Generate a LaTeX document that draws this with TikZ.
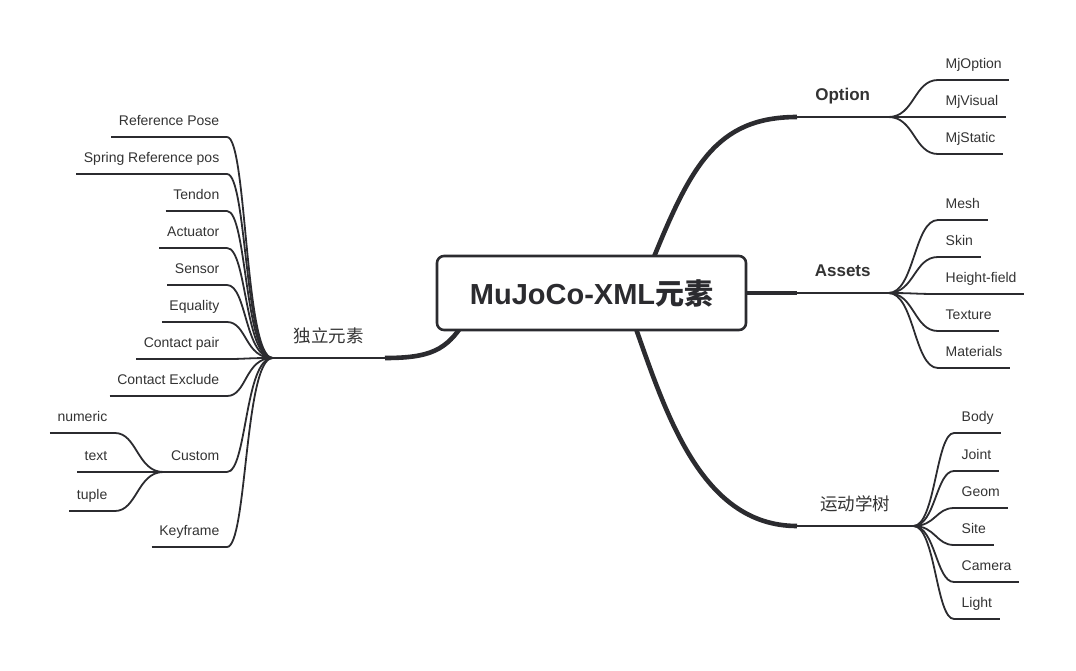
\documentclass[tikz,border=0pt]{standalone}
\usepackage{fontspec}
\setmainfont{Liberation Sans}
\newfontfamily\cjk{Noto Sans CJK SC}
\usetikzlibrary{backgrounds,calc}
\definecolor{ln}{HTML}{2B2B2F}
\definecolor{tx}{HTML}{333333}
\begin{document}
\begin{tikzpicture}[x=1pt,y=-1pt,
  leaf/.style={font=\fontsize{14}{16}\selectfont, text=tx, inner xsep=7.5pt, inner ysep=0pt, text height=11pt, text depth=11pt},
  rleaf/.style={leaf, anchor=south west},
  lleaf/.style={leaf, anchor=south east},
  hub/.style={text=tx, inner sep=0pt, text height=12pt},
  hubL/.style={hub, font=\bfseries\fontsize{17}{20}\selectfont, text depth=16pt},
  hubC/.style={hub, font=\cjk\fontsize{17.5}{20}\selectfont, text depth=15pt},
  uline/.style={draw=ln, line width=2.7pt},
  twig/.style={draw=ln, line width=1.8pt},
  trunk/.style={draw=ln, line width=4.6pt},
  rootbox/.style={draw=ln, line width=2.6pt, fill=white, rounded corners=7pt, minimum width=309pt, minimum height=74pt, inner sep=0pt, text=ln, font=\bfseries\fontsize{29}{32}\selectfont}
]
\useasboundingbox (0,0) rectangle (1076,670);

% root
\node[rootbox] (root) at (591.5,293) {MuJoCo-XML{\cjk 元素}};

% first-level labels
\node[hubL, anchor=south west, minimum width=91pt] (option) at (797,117) {Option};
\node[hubL, anchor=south west, minimum width=91pt] (assets) at (797,293) {Assets};
\node[hubC, anchor=south west, minimum width=116pt] (kin) at (797,526) {运动学树};
\node[hubC, anchor=south east, minimum width=112pt] (indep) at (385,358) {独立元素};

\draw[uline] (option.south west) -- (option.south east);
\draw[uline] (assets.south west) -- (assets.south east);
\draw[uline] (kin.south west) -- (kin.south east);
\draw[uline] (indep.south west) -- (indep.south east);

\begin{scope}[on background layer]
\draw[trunk] ($(root.north)+(58.5,12)$) .. controls +(40,-99) and +(-82,0) .. (option.south west);
\draw[trunk] ($(root.east)+(-10,0)$) -- (assets.south west);
\draw[trunk] ($(root.south)+(41.5,-11)$) .. controls +(32,90) and +(-97,0) .. (kin.south west);
\draw[trunk] ($(root.south west)+(29,-10)$) .. controls +(-18,29) and +(45,0) .. (indep.south east);
\end{scope}

% Option children
\foreach \n/\y/\t in {mjoption/80/MjOption, mjvisual/117/MjVisual, mjstatic/154/MjStatic}{
  \node[rleaf] (\n) at (938,\y) {\t};
  \draw[twig] (\n.south west) -- (\n.south east);
  \draw[twig] (option.south east) .. controls +(26,0) and +(-24,0) .. (\n.south west);
}

% Assets children
\foreach \n/\y/\t in {mesh/220/Mesh, skin/257/Skin, hfield/294/Height-field, texture/331/Texture, materials/368/Materials}{
  \node[rleaf] (\n) at (938,\y) {\t};
  \draw[twig] (\n.south west) -- (\n.south east);
  \draw[twig] (assets.south east) .. controls +(26,0) and +(-24,0) .. (\n.south west);
}

% Kinematic tree children
\foreach \n/\y/\t in {body/433/Body, joint/471/Joint, geom/508/Geom, site/545/Site, camera/582/Camera, light/619/Light}{
  \node[rleaf] (\n) at (954,\y) {\t};
  \draw[twig] (\n.south west) -- (\n.south east);
  \draw[twig] (kin.south east) .. controls +(22,0) and +(-18,0) .. (\n.south west);
}

% Independent elements children
\foreach \n/\y/\t in {refpose/137/Reference Pose, springref/174/Spring Reference pos, tendon/211/Tendon, actuator/248/Actuator, sensor/285/Sensor, equality/322/Equality, cpair/359/Contact pair, cexclude/396/Contact Exclude, custom/472/Custom, keyframe/547/Keyframe}{
  \node[lleaf] (\n) at (227,\y) {\t};
  \draw[twig] (\n.south west) -- (\n.south east);
  \draw[twig] (indep.south west) .. controls +(-28,0) and +(20,0) .. (\n.south east);
}

% Custom children
\foreach \n/\y/\t in {numeric/433/numeric, ctext/472/text, tuple/511/tuple}{
  \node[lleaf] (\n) at (115,\y) {\t};
  \draw[twig] (\n.south west) -- (\n.south east);
  \draw[twig] (custom.south west) .. controls +(-26,0) and +(22,0) .. (\n.south east);
}
\end{tikzpicture}
\end{document}
